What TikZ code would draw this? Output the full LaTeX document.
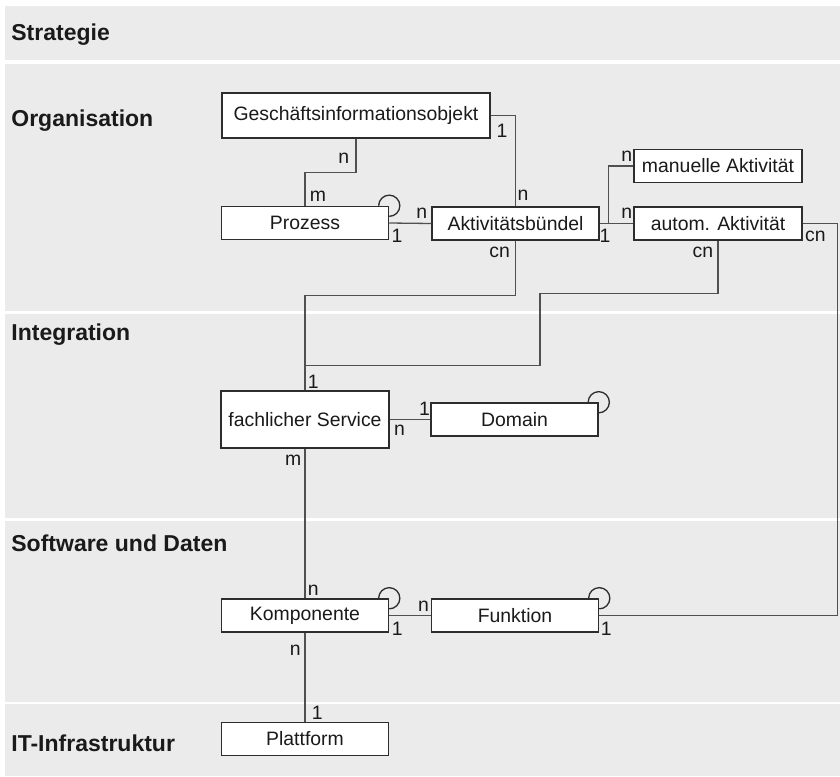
\documentclass[tikz,border=0pt]{standalone}
\usepackage{fontspec}
\setmainfont{Liberation Sans}
\usepackage{xcolor}
\definecolor{grey_band}{RGB}{235,235,235}
\definecolor{grey_line}{RGB}{80,80,80}
\definecolor{dark_box}{RGB}{45,45,45}
\definecolor{dark_text}{RGB}{26,26,26}
\usepackage{tikz}
\usetikzlibrary{calc,positioning}

\begin{document}
\begin{tikzpicture}
[
    x = 0.5pt, y = -0.5pt,
    band/.style = {fill = grey_band},
    layer/.style = {anchor = base west, inner sep = 0pt, text = dark_text, font = \fontsize{11.5}{13}\selectfont\bfseries},
    entity/.style = {draw = dark_box, fill = white, line width = 0.75pt, minimum width = 83.5pt, minimum height = 16.5pt, inner sep = 1pt, text = dark_text, font = \fontsize{9.7}{11}\selectfont},
    conn/.style = {draw = grey_line, line width = 0.65pt},
    card/.style = {anchor = base, inner sep = 0pt, text = dark_text, font = \fontsize{9.7}{11}\selectfont}
]
\useasboundingbox (0,0) rectangle (840,776);
\fill[band] (5,6) rectangle (840,60);
\fill[band] (5,64) rectangle (840,311);
\fill[band] (5,314) rectangle (840,518);
\fill[band] (5,520.5) rectangle (840,702);
\fill[band] (5,704) rectangle (840,776);

\node[layer] (strat) at (11,40) {Strategie};
\node[layer] (orga) at (11,126.5) {Organisation};
\node[layer] (integ) at (11,340.5) {Integration};
\node[layer] (softw) at (11,551.5) {Software und Daten};
\node[layer] (infra) at (11,751.5) {IT-Infrastruktur};

\node[entity, minimum width = 134pt, minimum height = 22.5pt] (gio) at (356,115.5) {Geschäftsinformationsobjekt};
\node[entity] (prozess) at (305,223) {Prozess};
\node[entity] (aktb) at (515.5,223.5) {Aktivitätsbündel};
\node[entity, minimum width = 84pt] (manuell) at (718,166) {manuelle Aktivität};
\node[entity, minimum width = 84pt] (autom) at (718,223.5) {autom. Aktivität};
\node[entity, minimum width = 84pt, minimum height = 28.5pt] (fachserv) at (305,419.5) {fachlicher Service};
\node[entity] (domain) at (514.5,419.5) {Domain};
\node[entity] (komp) at (305,615.5) {Komponente};
\node[entity] (funkt) at (515,615.5) {Funktion};
\node[entity] (plattf) at (305,739) {Plattform};

\draw[conn] (gio.south) -- ++(0,34) -| (prozess.north);
\draw[conn] (gio.east) -| (aktb.north);
\draw[conn] (prozess.east) -- (aktb.west);
\draw[conn] (aktb.east) -- (autom.west) coordinate[pos=0.26] (abzw);
\draw[conn] (abzw) |- (manuell.west);
\draw[conn] (aktb.south) -- ++(0,55) -| (fachserv.north);
\draw[conn] (autom.south) -- ++(0,53) -- ++(-178,0) -- ++(0,72) -| (fachserv.north);
\draw[conn] (autom.east) -- ++(35,0) |- (funkt.east);
\draw[conn] (fachserv.east) -- (domain.west);
\draw[conn] (fachserv.south) -- (komp.north);
\draw[conn] (komp.east) -- (funkt.west);
\draw[conn] (komp.south) -- (plattf.north);

\foreach \ent in {prozess,domain,komp,funkt}
    \draw[conn, draw = dark_box] (\ent.north east) ++(-5.3pt,0pt) arc[start angle = 180, end angle = -90, radius = 5.3pt];

\node[card] (gio_n) at (343.7,163.3) {n};
\node[card] (proz_m) at (318,201.7) {m};
\node[card] (gio_1) at (502,137.3) {1};
\node[card] (aktb_n) at (523,200.7) {n};
\node[card] (proz_1) at (397,242.7) {1};
\node[card] (aktb_w_n) at (421.7,218.3) {n};
\node[card] (manu_n) at (626.7,161) {n};
\node[card] (aktb_e_1) at (605,242.7) {1};
\node[card] (autom_n) at (626.7,218.3) {n};
\node[card] (aktb_cn) at (499.7,257.7) {cn};
\node[card] (autom_s_cn) at (702.8,257.7) {cn};
\node[card] (autom_e_cn) at (815.3,241.7) {cn};
\node[card] (fach_1) at (313.3,388.3) {1};
\node[card] (dom_1) at (424.5,415.7) {1};
\node[card] (fach_n) at (399.5,435.7) {n};
\node[card] (fach_m) at (293.3,465) {m};
\node[card] (komp_n) at (313.2,595) {n};
\node[card] (komp_1) at (397.3,635.7) {1};
\node[card] (funkt_n) at (423.5,611.5) {n};
\node[card] (funkt_1) at (606.3,635) {1};
\node[card] (komp_s_n) at (295.3,655) {n};
\node[card] (plattf_1) at (317.3,719.3) {1};
\end{tikzpicture}
\end{document}
